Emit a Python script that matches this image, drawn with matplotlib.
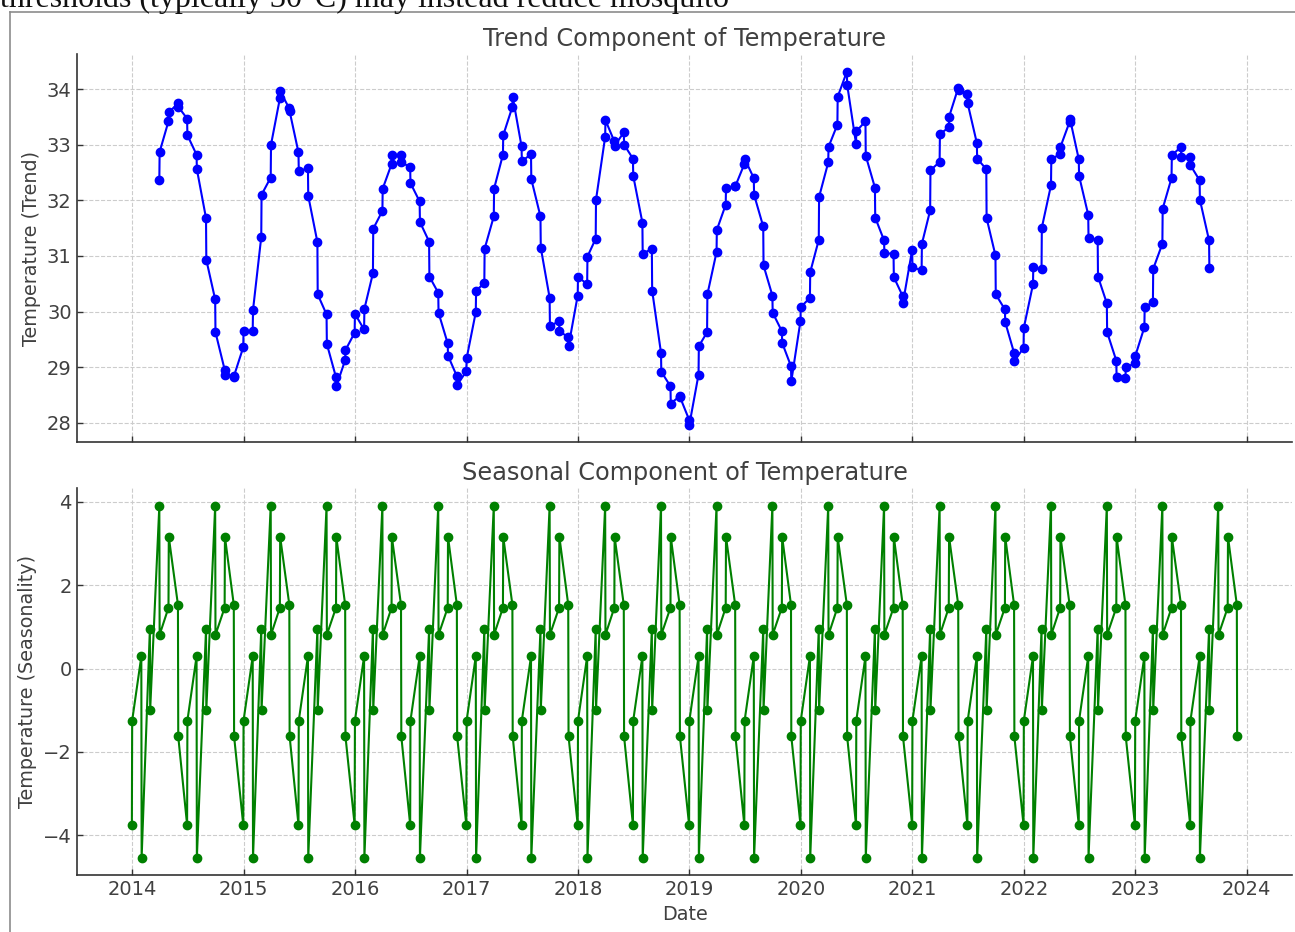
import matplotlib
matplotlib.use("Agg")
import matplotlib.pyplot as plt
import matplotlib.dates as mdates
from matplotlib.lines import Line2D
import numpy as np
import pandas as pd

# observation dates: each month boundary appears twice (month end, next month start)
month_ends = pd.date_range("2013-12-31", periods=120, freq="ME")
month_starts = pd.date_range("2014-01-01", periods=120, freq="MS")
dates = np.array([d for pair in zip(month_ends, month_starts) for d in pair])

# one cycle of the seasonal component (12 observations)
seasonal_cycle = [-3.75, -1.25, 0.29, -4.54, 0.94, -0.99,
                  3.90, 0.81, 1.46, 3.16, 1.53, -1.63]
seasonal = np.tile(seasonal_cycle, len(dates) // len(seasonal_cycle))

# trend component (first and last 6 observations undefined)
trend = [
    32.37, 32.87, 33.42, 33.58, 33.74, 33.68, 33.47, 33.17, 32.82, 32.56,
    31.68, 30.93, 30.22, 29.63, 28.96, 28.87, 28.83, 28.85,
    29.36, 29.66, 29.65, 30.03, 31.34, 32.10, 32.41, 33.00, 33.83, 33.96,
    33.65, 33.60, 32.86, 32.52, 32.58, 32.08, 31.25, 30.31, 29.95, 29.42,
    28.82, 28.66, 29.13, 29.31,
    29.62, 29.96, 29.68, 30.05, 30.69, 31.49, 31.81, 32.21, 32.65, 32.81,
    32.81, 32.68, 32.60, 32.31, 31.98, 31.61, 31.26, 30.63, 30.34, 29.98,
    29.43, 29.21, 28.84, 28.68,
    28.93, 29.16, 29.99, 30.38, 30.51, 31.13, 31.71, 32.21, 32.82, 33.17,
    33.68, 33.86, 32.97, 32.70, 32.83, 32.38, 31.71, 31.15, 30.25, 29.74,
    29.83, 29.65, 29.54, 29.38,
    30.29, 30.63, 30.49, 30.99, 31.31, 32.01, 33.14, 33.44, 33.06, 32.98,
    33.22, 33.00, 32.75, 32.44, 31.60, 31.04, 31.13, 30.38, 29.26, 28.92,
    28.66, 28.35, 28.48, 28.47,
    28.06, 27.97, 28.87, 29.38, 29.63, 30.31, 31.07, 31.47, 31.92, 32.22,
    32.25, 32.26, 32.65, 32.75, 32.40, 32.10, 31.53, 30.83, 30.29, 29.98,
    29.65, 29.44, 29.02, 28.75,
    29.83, 30.08, 30.25, 30.71, 31.29, 32.06, 32.68, 32.96, 33.36, 33.86,
    34.31, 34.08, 33.02, 33.24, 33.42, 32.80, 32.23, 31.69, 31.28, 31.05,
    31.04, 30.62, 30.28, 30.16,
    31.11, 30.80, 30.74, 31.22, 31.82, 32.54, 32.69, 33.19, 33.31, 33.50,
    34.02, 33.99, 33.91, 33.74, 33.03, 32.75, 32.56, 31.68, 31.01, 30.31,
    30.04, 29.81, 29.26, 29.11,
    29.35, 29.71, 30.49, 30.80, 30.76, 31.51, 32.27, 32.74, 32.83, 32.96,
    33.41, 33.47, 32.74, 32.44, 31.74, 31.33, 31.29, 30.63, 30.15, 29.63,
    29.12, 28.82, 28.80, 29.00,
    29.07, 29.20, 29.72, 30.08, 30.17, 30.77, 31.22, 31.85, 32.40, 32.81,
    32.96, 32.78, 32.78, 32.63, 32.36, 32.01, 31.28, 30.78,
]
trend_dates = dates[6:6 + len(trend)]

text_color = "#404040"
plt.rcParams["font.family"] = ["DejaVu Sans"]
plt.rcParams["text.color"] = text_color
plt.rcParams["axes.labelcolor"] = text_color
plt.rcParams["xtick.color"] = text_color
plt.rcParams["ytick.color"] = text_color

W, H = 1295, 932
fig = plt.figure(figsize=(W / 100, H / 100), dpi=100)

# surrounding document page (its first line is cut off at the top)
fig.text(0.0, 1 - 6.5 / H, "thresholds (typically 30\u00b0C) may instead reduce mosquito",
         family=["Liberation Serif", "DejaVu Serif"], fontsize=23, color="#111111",
         ha="left", va="baseline")
fig.add_artist(Line2D([9.5 / W, 9.5 / W], [0, 1 - 12 / H], color="#8c8c8c", lw=1.2))
fig.add_artist(Line2D([9.5 / W, 1], [1 - 12 / H, 1 - 12 / H], color="#8c8c8c", lw=1.2))

ax1 = fig.add_axes([76.6 / W, 1 - 442.3 / H, (1292.4 - 76.6) / W, (442.3 - 54.1) / H])
ax2 = fig.add_axes([76.6 / W, 1 - 875.3 / H, (1292.4 - 76.6) / W, (875.3 - 488.4) / H],
                   sharex=ax1)

ax1.plot(trend_dates, trend, color="blue", marker="o", lw=1.5, ms=6)
ax2.plot(dates, seasonal, color="green", marker="o", lw=1.5, ms=6)

ax1.set_title("Trend Component of Temperature", fontsize=17.3, color=text_color)
ax2.set_title("Seasonal Component of Temperature", fontsize=17.3, color=text_color)
ax1.set_ylabel("Temperature (Trend)", fontsize=13.8)
ax2.set_ylabel("Temperature (Seasonality)", fontsize=13.8)
ax2.set_xlabel("Date", fontsize=13.8)

ax1.set_yticks([28, 29, 30, 31, 32, 33, 34])
ax2.set_yticks([-4, -2, 0, 2, 4])
ax2.xaxis.set_major_locator(mdates.YearLocator())
ax2.xaxis.set_major_formatter(mdates.DateFormatter("%Y"))

for ax in (ax1, ax2):
    ax.grid(True, linestyle="--", color="#cccccc", lw=0.8)
    ax.set_axisbelow(True)
    for side in ("top", "right"):
        ax.spines[side].set_visible(False)
    for side in ("left", "bottom"):
        ax.spines[side].set_color("#333333")
        ax.spines[side].set_linewidth(1.2)
    ax.tick_params(direction="in", length=4, width=1, labelsize=14, color="#333333")
ax1.tick_params(labelbottom=False)

fig.savefig("out.png", dpi=100)
